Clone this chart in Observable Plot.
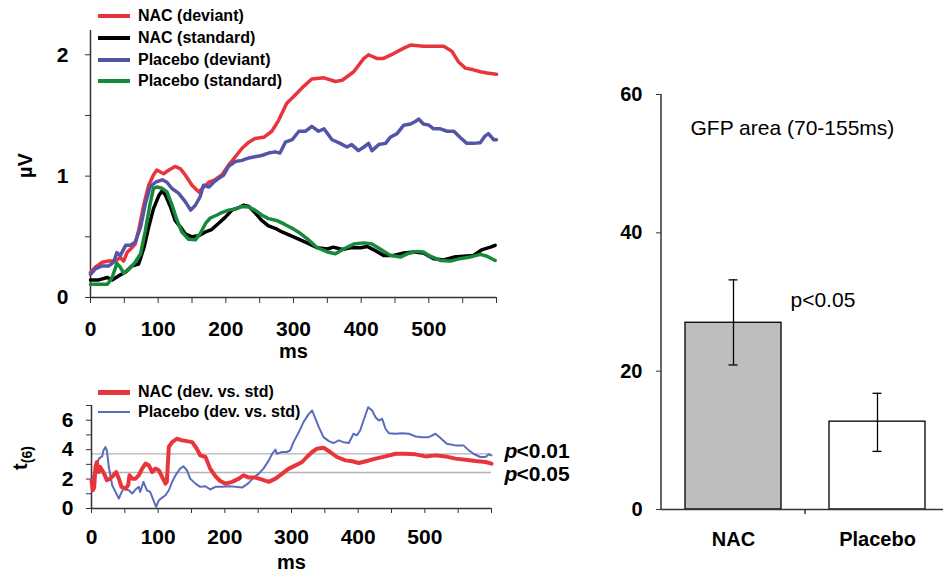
<!DOCTYPE html>
<html><head><meta charset="utf-8">
<script src="https://cdn.jsdelivr.net/npm/d3@7"></script>
<script src="https://cdn.jsdelivr.net/npm/@observablehq/plot@0.6"></script>
<style>
body{margin:0;background:#fff;}
#root{position:relative;width:943px;height:579px;overflow:hidden;font-family:"Liberation Sans",Arial,Helvetica,sans-serif;color:#000;}
.panel{position:absolute;}
.leg{position:absolute;left:98px;display:flex;align-items:center;font-weight:bold;font-size:16px;height:22px;white-space:nowrap;}
.sw{width:32px;margin-right:8px;}
.ylab{position:absolute;font-weight:bold;font-size:20px;white-space:nowrap;transform:translate(-50%,-50%) rotate(-90deg);}
</style></head><body><div id="root"></div>
<script>
// ---------- data ----------
const nacDeviant = [[0,0.207],[7,0.25],[17,0.29],[27,0.30],[37,0.30],[44,0.33],[49,0.30],[54,0.37],[61,0.41],[66,0.44],[71,0.55],[79,0.77],[86,0.925],[93,1.01],[98,1.05],[108,1.02],[116,1.05],[125,1.08],[133,1.06],[140,1.01],[150,0.925],[160,0.87],[167,0.91],[175,0.95],[184,0.97],[194,1.01],[204,1.09],[214,1.16],[224,1.23],[234,1.28],[243,1.31],[256,1.32],[268,1.37],[278,1.46],[290,1.60],[300,1.655],[315,1.74],[327,1.80],[345,1.81],[362,1.78],[372,1.79],[389,1.86],[404,1.97],[411,2.0],[423,1.97],[433,1.97],[448,2.01],[463,2.055],[473,2.08],[492,2.07],[507,2.07],[522,2.07],[534,2.03],[544,1.94],[554,1.89],[566,1.876],[576,1.86],[586,1.85],[600,1.84]];
const nacStandard = [[0,0.145],[12,0.145],[25,0.165],[32,0.145],[42,0.18],[52,0.21],[61,0.26],[71,0.275],[79,0.41],[86,0.58],[93,0.73],[101,0.84],[106,0.88],[111,0.84],[118,0.75],[125,0.635],[133,0.58],[140,0.525],[150,0.50],[160,0.51],[170,0.54],[179,0.56],[189,0.61],[199,0.66],[209,0.72],[219,0.74],[226,0.76],[234,0.75],[243,0.70],[253,0.635],[263,0.59],[273,0.57],[283,0.54],[300,0.50],[320,0.45],[335,0.41],[350,0.40],[359,0.415],[372,0.395],[384,0.41],[399,0.41],[409,0.42],[418,0.395],[433,0.347],[448,0.347],[463,0.366],[478,0.375],[492,0.366],[507,0.32],[522,0.31],[537,0.333],[551,0.34],[566,0.347],[579,0.395],[591,0.415],[598,0.43]];
const placeboDeviant = [[0,0.19],[7,0.235],[17,0.26],[27,0.26],[34,0.29],[39,0.37],[44,0.345],[52,0.43],[59,0.43],[66,0.455],[74,0.58],[81,0.77],[88,0.91],[96,0.95],[106,0.97],[113,0.95],[120,0.90],[130,0.86],[140,0.79],[148,0.72],[155,0.76],[162,0.83],[167,0.925],[175,0.91],[182,0.95],[189,0.98],[197,1.01],[204,1.08],[214,1.12],[224,1.13],[234,1.15],[243,1.16],[253,1.17],[263,1.19],[273,1.20],[280,1.19],[288,1.28],[298,1.30],[308,1.37],[318,1.37],[327,1.41],[337,1.37],[345,1.39],[357,1.30],[369,1.27],[379,1.24],[386,1.26],[396,1.21],[404,1.24],[411,1.27],[416,1.21],[426,1.26],[436,1.27],[443,1.32],[453,1.35],[463,1.42],[473,1.43],[480,1.45],[485,1.47],[492,1.43],[500,1.42],[507,1.39],[517,1.39],[527,1.37],[537,1.37],[546,1.32],[556,1.27],[566,1.27],[576,1.275],[583,1.33],[588,1.35],[596,1.30],[600,1.30]];
const placeboStandard = [[0,0.11],[12,0.11],[25,0.11],[32,0.165],[39,0.28],[44,0.25],[49,0.20],[57,0.235],[66,0.29],[74,0.36],[81,0.55],[88,0.77],[93,0.90],[98,0.91],[106,0.90],[113,0.87],[120,0.77],[128,0.635],[135,0.54],[145,0.48],[155,0.475],[162,0.525],[170,0.61],[177,0.655],[187,0.68],[194,0.70],[204,0.72],[214,0.73],[224,0.75],[234,0.745],[243,0.72],[253,0.68],[263,0.65],[275,0.635],[288,0.60],[298,0.57],[307,0.54],[320,0.485],[335,0.41],[350,0.375],[362,0.36],[374,0.40],[389,0.44],[404,0.45],[416,0.44],[428,0.40],[443,0.347],[458,0.333],[468,0.36],[483,0.38],[492,0.375],[502,0.34],[517,0.305],[532,0.30],[546,0.32],[561,0.333],[576,0.355],[586,0.34],[598,0.305]];

const nacT = [[0,1.92],[2,1.24],[4,1.42],[6,2.82],[8,3.16],[11,2.48],[13,2.82],[16,2.6],[20,2.26],[23,1.92],[28,2.03],[33,2.26],[37,2.48],[41,2.03],[45,1.47],[51,1.35],[55,1.58],[57,2.26],[61,2.03],[66,2.03],[71,2.26],[76,2.71],[81,3.05],[86,2.93],[91,2.48],[96,2.71],[101,2.6],[106,2.14],[111,1.69],[113,1.81],[116,4.18],[121,4.51],[128,4.74],[136,4.63],[143,4.58],[151,4.51],[158,4.06],[163,3.61],[171,3.5],[178,2.71],[186,2.19],[193,1.87],[201,1.69],[211,1.81],[221,2.03],[228,2.26],[236,2.1],[246,2.1],[256,1.96],[266,1.81],[276,2.03],[286,2.37],[296,2.71],[306,2.93],[316,3.16],[323,3.5],[331,3.84],[338,4.06],[348,4.13],[358,3.84],[368,3.5],[381,3.27],[391,3.21],[401,3.09],[413,3.23],[426,3.39],[441,3.54],[456,3.72],[471,3.72],[486,3.68],[501,3.54],[516,3.61],[531,3.54],[546,3.39],[561,3.32],[576,3.23],[591,3.16],[600,3.05]];
const placeboT = [[0,1.92],[6,2.6],[11,3.39],[16,3.54],[18,3.95],[21,4.18],[23,3.95],[26,2.82],[31,1.58],[36,1.13],[41,0.68],[43,0.9],[48,1.35],[56,1.24],[61,1.02],[66,1.29],[71,1.47],[73,1.13],[78,1.81],[83,1.24],[88,1.13],[93,0.56],[97,0.11],[101,0.56],[106,0.74],[111,0.9],[116,1.24],[121,1.81],[126,2.26],[133,2.71],[138,2.87],[143,2.6],[148,2.03],[156,1.69],[163,1.47],[171,1.51],[178,1.29],[186,1.47],[196,1.47],[206,1.51],[216,1.47],[226,1.42],[236,1.74],[243,2.1],[251,2.37],[258,2.71],[266,3.27],[271,3.72],[276,4.0],[278,3.72],[286,3.84],[293,3.84],[298,3.95],[303,4.51],[311,5.19],[318,5.87],[326,6.43],[331,6.66],[336,6.09],[341,5.53],[348,4.85],[356,4.58],[363,4.45],[371,4.63],[378,4.51],[386,4.45],[393,5.08],[398,4.97],[403,5.3],[408,5.98],[415,6.88],[421,6.66],[426,6.2],[431,5.98],[436,6.09],[441,5.42],[446,5.12],[456,5.08],[466,5.12],[476,5.08],[486,4.9],[496,4.85],[506,4.85],[516,5.08],[523,4.81],[533,4.4],[546,4.29],[558,4.29],[566,3.95],[573,3.72],[583,3.5],[591,3.5],[596,3.68],[600,3.61]];

const pThresholds = [{t: 3.707, label: "<0.01"}, {t: 2.447, label: "<0.05"}];

const groups = ["NAC", "Placebo"];
const gfpMean = [27.0, 12.7];
const gfpHigh = [33.2, 16.8];
const gfpLow = [20.9, 8.4];

const msTicks = [0,50,100,150,200,250,300,350,400,450,500,550,600];
const msLabels = [0,100,200,300,400,500];
const uvTicks = [0,0.5,1,1.5,2];
const uvLabels = [0,1,2];
const tTicks = [0,1,2,3,4,5,6,7];
const tLabels = [0,2,4,6];
const gfpTicks = [0,20,40,60];

// ---------- layout ----------
const FONT = '"Liberation Sans", Arial, Helvetica, sans-serif';
const root = document.getElementById("root");
const C = {red: "#e8353c", black: "#000000", blue: "#5654a6", green: "#17893b", tblue: "#5a6cbd", axis: "#333333", grid: "#b3b3b3"};
const baseStyle = {fontFamily: FONT, fontSize: "20px", fontWeight: "bold", color: "#000", background: "transparent", overflow: "visible"};
const X = d => d[0], Y = d => d[1];
const TICK_FS = 21;

function place(el, left, top) {
  el.classList.add("panel");
  el.style.left = left + "px";
  el.style.top = top + "px";
  root.appendChild(el);
}

// top panel
const topPlot = Plot.plot({
  width: 520, height: 370, marginLeft: 90, marginRight: 24, marginTop: 30, marginBottom: 73,
  style: baseStyle,
  x: {domain: [0, 600]},
  y: {domain: [0, 2.2]},
  marks: [
    Plot.ruleX([0], {y1: 0, y2: 2.2, stroke: C.axis, strokeWidth: 1.5}),
    Plot.ruleY([0], {x1: 0, x2: 600, stroke: C.axis, strokeWidth: 1.5}),
    Plot.axisX({ticks: msTicks, tickFormat: d => msLabels.includes(d) ? d : "", tickSize: 6, tickPadding: 18, label: null, stroke: C.axis, fontSize: TICK_FS, fontWeight: "bold"}),
    Plot.axisY({ticks: uvTicks, tickFormat: d => uvLabels.includes(d) ? d : "", tickSize: 5, tickPadding: 17, label: null, stroke: C.axis, fontSize: TICK_FS, fontWeight: "bold"}),
    Plot.line(nacDeviant, {x: X, y: Y, stroke: C.red, strokeWidth: 3.5, strokeLinejoin: "round"}),
    Plot.line(nacStandard, {x: X, y: Y, stroke: C.black, strokeWidth: 3.5, strokeLinejoin: "round"}),
    Plot.line(placeboDeviant, {x: X, y: Y, stroke: C.blue, strokeWidth: 3.5, strokeLinejoin: "round"}),
    Plot.line(placeboStandard, {x: X, y: Y, stroke: C.green, strokeWidth: 3.5, strokeLinejoin: "round"}),
    Plot.text(["µV"], {frameAnchor: "left", dx: -65, dy: 14, rotate: -90, fontSize: 20, fontWeight: "bold"}),
    Plot.text(["ms"], {frameAnchor: "bottom", dy: 60, fontSize: 20, fontWeight: "bold"})
  ]
});
place(topPlot, 0, 0);

// bottom panel
const botMarks = [
  Plot.ruleY(pThresholds, {y: "t", x1: 0, x2: 600, stroke: C.grid, strokeWidth: 1.3}),
  Plot.ruleX([0], {y1: 0, y2: 7, stroke: C.axis, strokeWidth: 1.5}),
  Plot.ruleY([0], {x1: 0, x2: 600, stroke: C.axis, strokeWidth: 1.5}),
  Plot.axisX({ticks: msTicks, tickFormat: d => msLabels.includes(d) ? d : "", tickSize: 5, tickPadding: 16, label: null, stroke: C.axis, fontSize: TICK_FS, fontWeight: "bold"}),
  Plot.axisY({ticks: tTicks, tickFormat: d => tLabels.includes(d) ? d : "", tickSize: 5, tickPadding: 13, label: null, stroke: C.axis, fontSize: TICK_FS, fontWeight: "bold"}),
  Plot.line(placeboT, {x: X, y: Y, stroke: C.tblue, strokeWidth: 2, strokeLinejoin: "round"}),
  Plot.line(nacT, {x: X, y: Y, stroke: C.red, strokeWidth: 4, strokeLinejoin: "round"}),
  Plot.text(["ms"], {frameAnchor: "bottom", dy: 60, fontSize: 20, fontWeight: "bold"})
];
pThresholds.forEach((d, i) => {
  const dy = i === 0 ? -3 : 2;
  botMarks.push(Plot.text([d], {y: "t", text: () => "p", frameAnchor: "right", dx: 13, dy, textAnchor: "start", fontStyle: "italic", fontSize: 21, fontWeight: "bold"}));
  botMarks.push(Plot.text([d], {y: "t", text: "label", frameAnchor: "right", dx: 25, dy, textAnchor: "start", fontSize: 21, fontWeight: "bold"}));
});
const botPlot = Plot.plot({
  width: 600, height: 209, marginLeft: 91, marginRight: 109, marginTop: 35, marginBottom: 71,
  style: baseStyle,
  x: {domain: [0, 600]},
  y: {domain: [0, 7]},
  marks: botMarks
});
place(botPlot, 0, 370);

// bar panel
const gfp = groups.map((g, i) => ({group: g, mean: gfpMean[i], high: gfpHigh[i], low: gfpLow[i]}));
const barPlot = Plot.plot({
  width: 353, height: 579, marginLeft: 71, marginRight: 0, marginTop: 94, marginBottom: 70,
  style: baseStyle,
  x: {domain: groups, range: [71, 359.6], paddingInner: 0.335, paddingOuter: 0.1675},
  y: {domain: [0, 60]},
  color: {domain: groups, range: ["#bebebe", "#ffffff"]},
  marks: [
    Plot.barY(gfp, {x: "group", y: "mean", fill: "group", stroke: "#000", strokeWidth: 1.3}),
    Plot.ruleX(gfp, {x: "group", y1: "low", y2: "high", stroke: "#000", strokeWidth: 1.3}),
    Plot.tickY(gfp, {x: "group", y: "high", insetLeft: 43.5, insetRight: 43.5, stroke: "#000", strokeWidth: 1.3}),
    Plot.tickY(gfp, {x: "group", y: "low", insetLeft: 43.5, insetRight: 43.5, stroke: "#000", strokeWidth: 1.3}),
    Plot.ruleY([0], {stroke: C.axis, strokeWidth: 1.5}),
    Plot.axisY({ticks: gfpTicks, tickSize: 5, tickPadding: 14, label: null, stroke: C.axis, fontSize: 20, fontWeight: "bold"}),
    Plot.axisX({tickSize: 0, tickPadding: 22, label: null, fontSize: 20, fontWeight: "bold"}),
    Plot.text(["GFP area (70-155ms)"], {frameAnchor: "top-left", dx: 29, dy: 26, textAnchor: "start", fontSize: 21, fontWeight: "normal"}),
    Plot.text(["p<0.05"], {frameAnchor: "top-left", dx: 129, dy: 198, textAnchor: "start", fontSize: 21, fontWeight: "normal"})
  ]
});
place(barPlot, 590, 0);
{
  const sx = barPlot.scale("x"), sy = barPlot.scale("y");
  const svg = d3.select(barPlot);
  const x0 = sx.range[0];
  svg.append("line").attr("x1", x0).attr("x2", x0).attr("y1", sy.apply(0)).attr("y2", sy.apply(60))
    .attr("stroke", C.axis).attr("stroke-width", 1.5);
  const mid = sx.apply(groups[0]) + sx.bandwidth + (sx.step - sx.bandwidth) / 2;
  svg.append("line").attr("x1", mid).attr("x2", mid).attr("y1", sy.apply(0)).attr("y2", sy.apply(0) + 5)
    .attr("stroke", C.axis).attr("stroke-width", 1.5);
}

// legends
const topLegend = [
  {label: "NAC (deviant)", color: C.red, y: 16, w: 4.5},
  {label: "NAC (standard)", color: C.black, y: 38, w: 4.5},
  {label: "Placebo (deviant)", color: C.blue, y: 60, w: 4.5},
  {label: "Placebo (standard)", color: C.green, y: 81, w: 4.5}
];
const botLegend = [
  {label: "NAC (dev. vs. std)", color: C.red, y: 392, w: 5},
  {label: "Placebo (dev. vs. std)", color: C.tblue, y: 412, w: 2.2}
];
for (const d of topLegend.concat(botLegend)) {
  const row = document.createElement("div");
  row.className = "leg";
  row.style.top = (d.y - 11) + "px";
  const sw = document.createElement("div");
  sw.className = "sw";
  sw.style.height = d.w + "px";
  sw.style.background = d.color;
  const tx = document.createElement("span");
  tx.textContent = d.label;
  row.appendChild(sw); row.appendChild(tx);
  root.appendChild(row);
}

// t(6) label
const tl = document.createElement("div");
tl.className = "ylab";
tl.style.left = "22px"; tl.style.top = "458px";
tl.innerHTML = 't<sub style="font-size:14px">(6)</sub>';
root.appendChild(tl);
</script></body></html>
